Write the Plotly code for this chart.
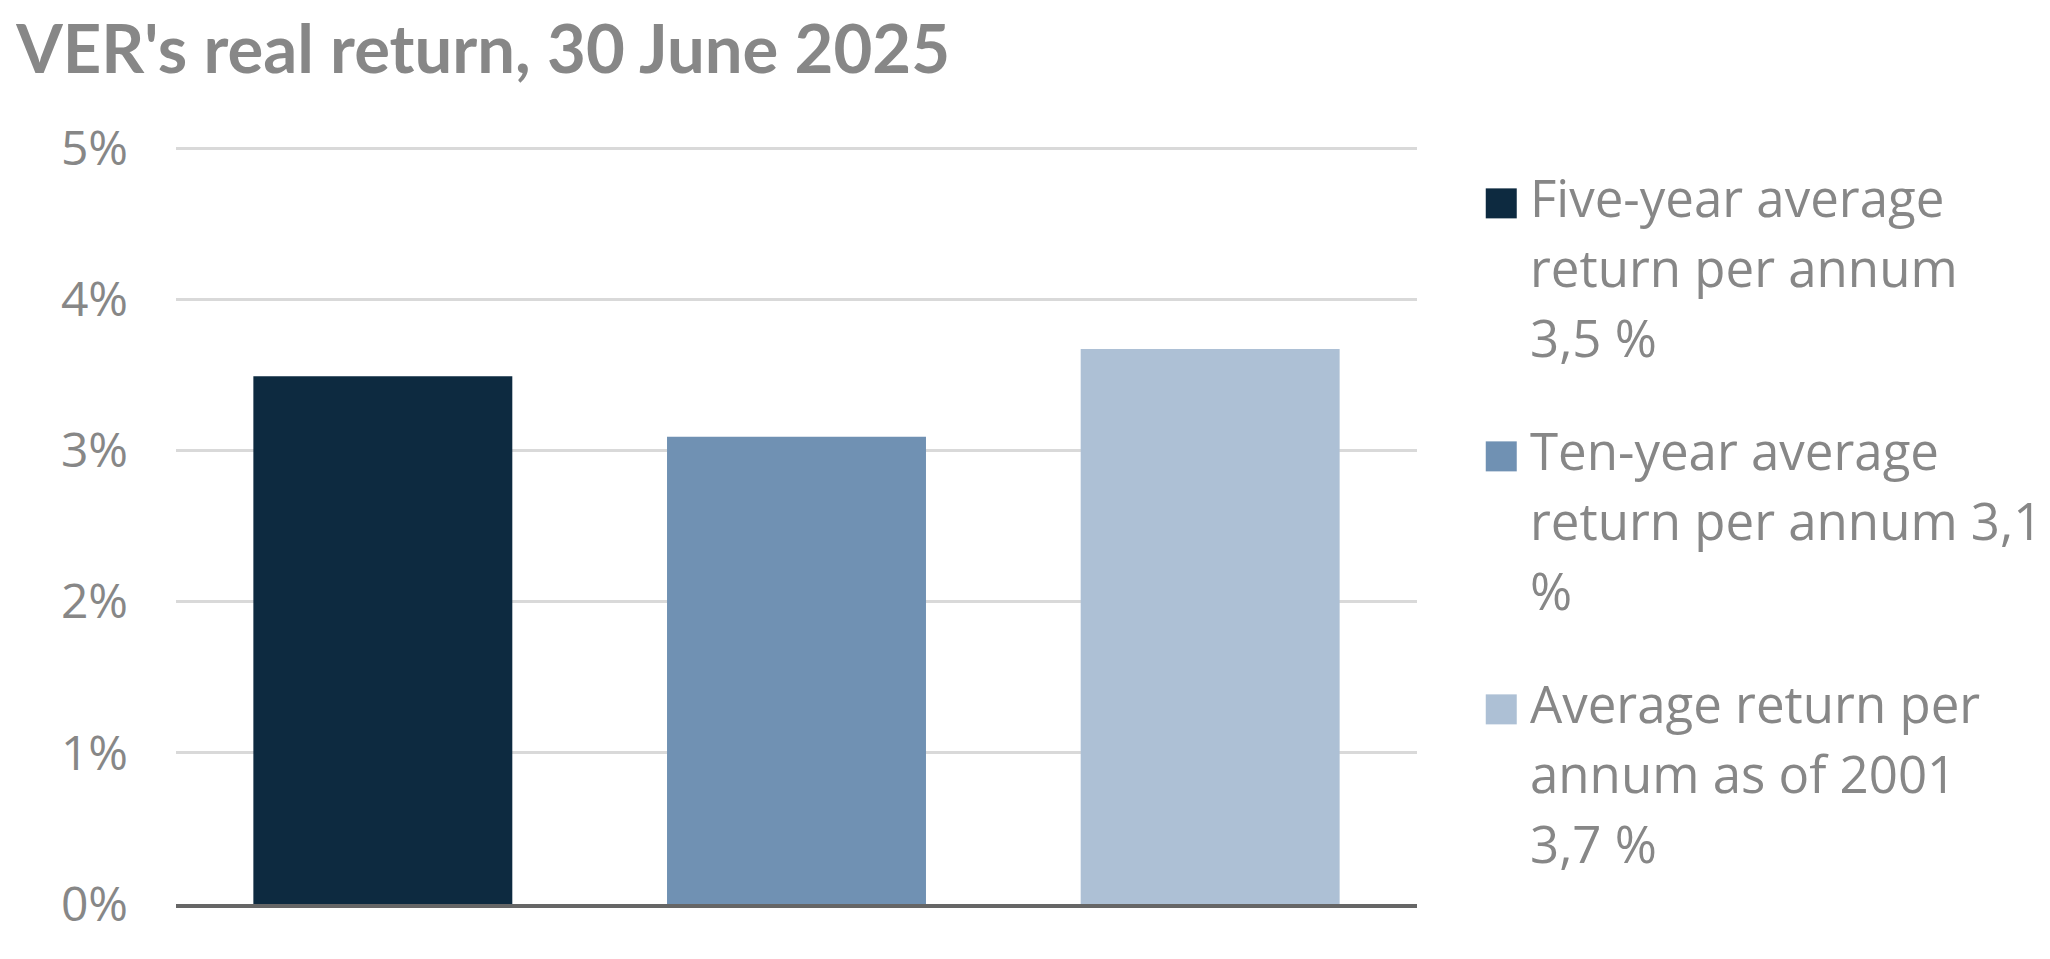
import plotly.graph_objects as go

# data (real return, % per annum)
series_names = [
    "Five-year average<br>return per annum<br>3,5 %",
    "Ten-year average<br>return per annum 3,1<br>%",
    "Average return per<br>annum as of 2001<br>3,7 %",
]
categories = ["5y", "10y", "since 2001"]
values = [3.49, 3.09, 3.67]
colors = ["#0d2a40", "#7091b3", "#adc0d5"]
y_ticks = [0, 1, 2, 3, 4, 5]

grey = "#878787"
plot_h = 759              # height of plot area in px

fig = go.Figure()
fig.add_trace(go.Bar(
    x=categories,
    y=values,
    marker=dict(color=colors, line=dict(width=0)),
    showlegend=False,
    hovertemplate="%{y:.1f}%<extra></extra>",
))

# legend on the right: coloured square + wrapped label, one annotation per line
line_step = 70 / plot_h
item_step = 253 / plot_h
for i, (name, col) in enumerate(zip(series_names, colors)):
    y_first = 0.931 - i * item_step
    fig.add_shape(
        type="rect", xref="paper", yref="paper",
        xsizemode="pixel", ysizemode="pixel",
        xanchor=1.0554, yanchor=y_first - 6 / plot_h,
        x0=0, x1=31, y0=-15, y1=15,
        fillcolor=col, line=dict(width=0),
    )
    for j, line in enumerate(name.split("<br>")):
        fig.add_annotation(
            text=line, xref="paper", yref="paper",
            x=1.0894, y=y_first - j * line_step,
            xanchor="left", yanchor="middle",
            align="left", showarrow=False,
            font=dict(family="Open Sans", size=51, color=grey),
        )

fig.update_layout(
    title=dict(
        text="VER's real return, 30 June 2025",
        x=0.004, xanchor="left", y=0.981, yanchor="top",
        font=dict(family="Lato", size=67, color=grey, weight="bold"),
    ),
    width=2050, height=959,
    margin=dict(l=168, r=641, t=137, b=63),
    paper_bgcolor="white", plot_bgcolor="white",
    bargap=0.374,
    showlegend=False,
    xaxis=dict(
        showticklabels=False, showgrid=False, zeroline=False,
        showline=True, linecolor="#666666", linewidth=4,
    ),
    yaxis=dict(
        # a hair above 5 so plotly keeps the top gridline
        range=[0, 5.02], tickvals=y_ticks,
        ticktext=[f"{v}%" for v in y_ticks],
        showgrid=True, gridcolor="#d9d9d9", gridwidth=3,
        zeroline=False, showline=False,
        ticklabelstandoff=47,
        tickfont=dict(family="Open Sans", size=48, color=grey),
    ),
)

fig.write_html("out.html")
